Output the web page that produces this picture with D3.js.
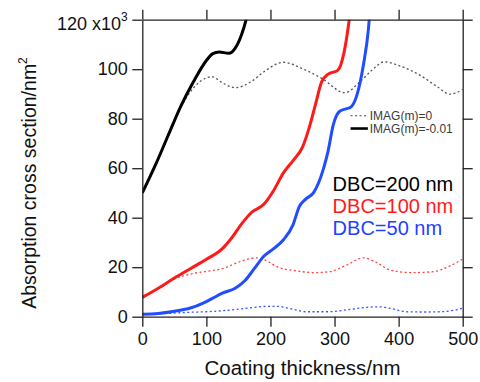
<!DOCTYPE html>
<html>
<head>
<meta charset="utf-8">
<script src="https://cdn.jsdelivr.net/npm/d3@7"></script>
<style>
  body { margin: 0; background: #fff; }
  svg { display: block; font-family: "Liberation Sans", Arial, sans-serif; }
</style>
</head>
<body>
<script>
// [coating thickness nm, absorption cross section x1e3 nm^2]
var black_solid = [[0,50],[20,61],[40,73],[60,85],[80,95],[100,103.5],[110,106.3],[120,107],[135,106.4],[145,108.5],[155,114],[162,120],[168,127]];
var black_dotted = [[0,50],[20,61],[40,73],[60,84.5],[80,92.5],[100,96.5],[108,97],[125,94.5],[145,92.5],[170,95],[190,99],[220,102.8],[250,100.2],[280,96.3],[316,90.5],[340,95],[360,100],[378,103],[400,101.5],[433,97.6],[460,93],[480,89.9],[500,91.8]];
var red_solid = [[0,7.8],[25,11.5],[50,15.6],[75,19.4],[100,23.2],[125,27.5],[140,32],[155,37.5],[170,42],[190,45.5],[205,51],[220,58],[235,63],[250,68.5],[260,76],[270,85.5],[280,95],[290,98],[305,99.5],[315,107],[323,120],[327,128]];
var red_dotted = [[0,7.8],[25,11.5],[50,15.2],[80,17.5],[100,18.3],[126,19.5],[152,22.2],[178,23.8],[195,22.5],[210,20.2],[241,18.5],[270,17.8],[293,18.2],[320,21],[345,23.8],[365,22],[386,18.9],[420,17.8],[454,18.2],[480,20.5],[500,23.3]];
var blue_solid = [[0,1],[25,1.3],[50,2.2],[75,3.5],[95,5.5],[110,7.5],[125,9.5],[145,11.5],[160,14.5],[175,19.5],[190,24.5],[205,27.5],[220,31],[235,37],[245,44.5],[255,47.5],[267,50],[275,54],[283,60],[290,67],[298,77.5],[308,83],[318,84],[325,84.6],[335,89.6],[345,101.7],[353,116.5],[356,126]];
var blue_dotted = [[0,1],[25,1.2],[50,1.5],[75,1.8],[100,2],[137,2.7],[168,3.6],[195,4.2],[210,4.2],[235,3],[256,2],[290,2],[320,2.8],[350,3.8],[371,4],[390,3.2],[412,2],[440,1.9],[465,2],[490,2.8],[500,3.4]];

var x_ticks = [0, 100, 200, 300, 400, 500];
var y_ticks = [0, 20, 40, 60, 80, 100, 120];
var dbc_labels = ["DBC=200 nm", "DBC=100 nm", "DBC=50 nm"];
var dbc_colors = ["#000000", "#ff1a1a", "#1f3fff"];
var legend_labels = ["IMAG(m)=0", "IMAG(m)=-0.01"];

var total_width = 480, total_height = 382;
var margin = { top: 19.7, right: 17.3, bottom: 65.3, left: 142.3 };
var graph_width = total_width - margin.left - margin.right;
var graph_height = total_height - margin.top - margin.bottom;

var svg = d3.select("body").append("svg")
    .attr("width", total_width)
    .attr("height", total_height);

var g = svg.append("g")
    .attr("transform", "translate(" + margin.left + "," + margin.top + ")");

var x = d3.scaleLinear().domain([0, 500]).range([0, graph_width]);
var y = d3.scaleLinear().domain([0, 120]).range([graph_height, 0]);

g.append("clipPath").attr("id", "plot_clip")
    .append("rect")
    .attr("width", graph_width)
    .attr("height", graph_height);

var line = d3.line()
    .x(function (d) { return x(d[0]); })
    .y(function (d) { return y(d[1]); })
    .curve(d3.curveMonotoneX);

var plot = g.append("g").attr("clip-path", "url(#plot_clip)");

// dotted: IMAG(m)=0
[[black_dotted, "#555"], [red_dotted, "#ff4040"], [blue_dotted, "#3355ff"]].forEach(function (s) {
    plot.append("path")
        .datum(s[0])
        .attr("fill", "none")
        .attr("stroke", s[1])
        .attr("stroke-width", 1.3)
        .attr("stroke-dasharray", "2,2.5")
        .attr("d", line);
});

// solid: IMAG(m)=-0.01
[[black_solid, "#000"], [red_solid, "#ff1a1a"], [blue_solid, "#1f4dff"]].forEach(function (s) {
    plot.append("path")
        .datum(s[0])
        .attr("fill", "none")
        .attr("stroke", s[1])
        .attr("stroke-width", 3)
        .attr("stroke-linejoin", "round")
        .attr("d", line);
});

// axes (mirrored, outward ticks)
function style_axis(sel) {
    sel.selectAll("path, line").attr("stroke", "#222").attr("stroke-width", 1.3);
    sel.selectAll("text").attr("fill", "#111").attr("font-size", 18)
        .attr("font-family", "Liberation Sans, Arial, sans-serif");
}

var x_axis = g.append("g")
    .attr("transform", "translate(0," + graph_height + ")")
    .call(d3.axisBottom(x).tickValues(x_ticks).tickSize(10).tickSizeOuter(0).tickPadding(6));
x_axis.call(style_axis);

g.append("g")
    .call(d3.axisTop(x).tickValues(x_ticks).tickSize(10).tickSizeOuter(0).tickFormat(""))
    .call(style_axis);

var y_axis = g.append("g")
    .call(d3.axisLeft(y).tickValues(y_ticks).tickSize(10).tickSizeOuter(0).tickPadding(4.5));
y_axis.call(style_axis);

g.append("g")
    .attr("transform", "translate(" + graph_width + ",0)")
    .call(d3.axisRight(y).tickValues(y_ticks).tickSize(10).tickSizeOuter(0).tickFormat(""))
    .call(style_axis);

// top y label gets the x10^3 multiplier
y_axis.selectAll(".tick text")
    .filter(function (d) { return d === 120; })
    .text(null)
    .attr("dy", "0.55em")
    .call(function (t) {
        t.append("tspan").text("120 x10");
        t.append("tspan").text("3").attr("font-size", 12).attr("dy", "-0.75em");
    });

// axis titles
svg.append("text")
    .attr("transform", "translate(36," + 183 + ") rotate(-90)")
    .attr("text-anchor", "middle")
    .attr("font-size", 19.5)
    .attr("fill", "#111")
    .call(function (t) {
        t.append("tspan").text("Absorption cross section/nm");
        t.append("tspan").text("2").attr("font-size", 12).attr("dy", "-0.75em");
    });

svg.append("text")
    .attr("x", margin.left + graph_width / 2)
    .attr("y", 375)
    .attr("text-anchor", "middle")
    .attr("font-size", 20.5)
    .attr("fill", "#111")
    .text("Coating thickness/nm");

// DBC labels
dbc_labels.forEach(function (lbl, i) {
    g.append("text")
        .attr("x", x(297))
        .attr("y", y(50.6) + i * 21.6)
        .attr("font-size", 20)
        .attr("fill", dbc_colors[i])
        .text(lbl);
});

// legend
var legend = g.append("g");
legend_labels.forEach(function (lbl, i) {
    var ly = y(81.2) + i * 12.8;
    legend.append("line")
        .attr("x1", x(325)).attr("x2", x(352))
        .attr("y1", ly).attr("y2", ly)
        .attr("stroke", i === 0 ? "#444" : "#000")
        .attr("stroke-width", i === 0 ? 1.2 : 2.6)
        .attr("stroke-dasharray", i === 0 ? "2,2.5" : null);
    legend.append("text")
        .attr("x", x(355))
        .attr("y", ly + 4)
        .attr("font-size", 12)
        .attr("fill", "#3a3a3a")
        .text(lbl);
});
</script>
</body>
</html>
